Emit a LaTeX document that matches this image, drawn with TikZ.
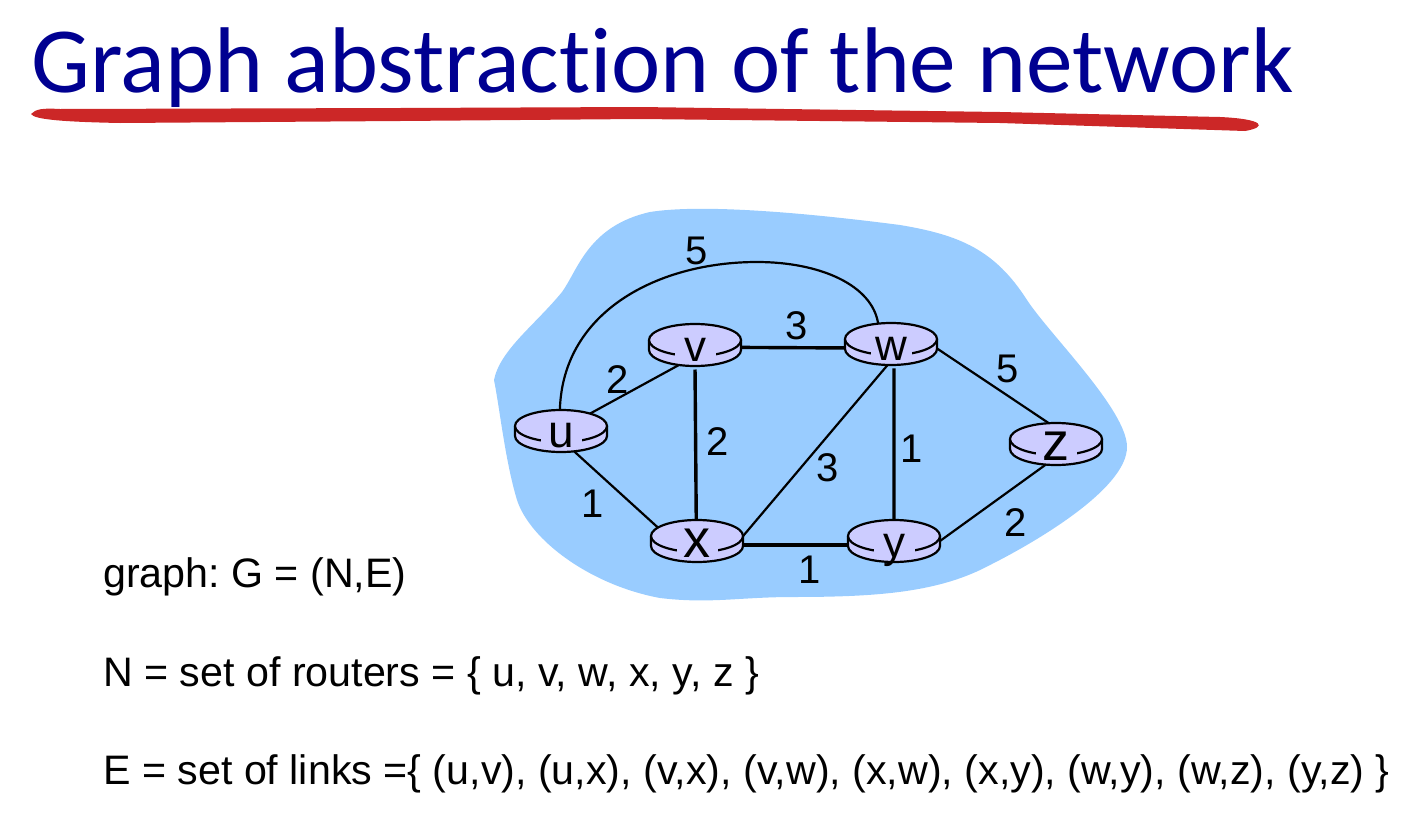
\documentclass[tikz,border=0pt]{standalone}
\usepackage{fontspec}
\setmainfont{Liberation Sans}
\newfontfamily\titlefont[Ligatures=NoCommon]{Carlito}
\definecolor{titleblue}{RGB}{0, 0, 145}
\definecolor{swoosh}{RGB}{204, 39, 39}
\definecolor{cloudblue}{RGB}{153, 204, 255}
\definecolor{routerfill}{RGB}{204, 204, 255}
\usetikzlibrary{shapes.geometric}
\tikzset{
	routerbox/.style={ellipse, minimum width=92pt, minimum height=43pt, inner sep=0pt, outer sep=0pt},
	routerbody/.style={draw=black, fill=routerfill, line width=2.2pt},
	routertext/.style={fill=routerfill, inner sep=0pt, minimum width=41pt, text height=20pt, text depth=0pt, yshift=-6.5pt},
	link/.style={draw=black, line width=2.2pt},
	heavylink/.style={draw=black, line width=3.4pt},
	weight/.style={font=\fontsize{40}{40}\selectfont, inner sep=0pt},
	caption/.style={anchor=base west, font=\fontsize{41.2}{41.2}\selectfont, inner sep=0pt},
}
\begin{document}
\frenchspacing
\begin{tikzpicture}[x=1pt, y=-1pt]
	\useasboundingbox (0,0) rectangle (1428,817);
	% title and swoosh
	\node[anchor=base west, inner sep=0pt, text=titleblue, font=\titlefont\fontsize{93.3}{93.3}\selectfont] (title) at (31,92) {Graph abstraction of the network};
	\fill[swoosh] (31,114) .. controls (36,109) and (42,108) .. (60,109) -- (400,108) -- (640,107) -- (1000,112) -- (1220,117) .. controls (1264,119) and (1268,127) .. (1245,131) -- (1000,123) -- (640,119) -- (400,121) -- (120,123) .. controls (70,122) and (34,120) .. cycle;
	% cloud
	\fill[cloudblue] (494,380) .. controls (500,350) and (535,325) .. (562,292) .. controls (578,270) and (588,226) .. (650,212) .. controls (700,204) and (800,212) .. (900,225) .. controls (960,235) and (995,250) .. (1027,300) .. controls (1050,335) and (1127,410) .. (1127,447) .. controls (1127,490) and (1030,545) .. (990,565) .. controls (940,592) and (880,597) .. (793,597) .. controls (740,597) and (710,604) .. (660,598) .. controls (590,585) and (530,540) .. (517,500) .. controls (505,460) and (500,410) .. (494,380) -- cycle;
	% routers
	\foreach \nname/\nx/\ny in {u/561/431, v/695/345, w/891/344, x/697/541, y/894/541, z/1056/444}
		\node[routerbox] (\nname) at (\nx,\ny) {};
	% links
	\draw[link] (u.93) .. controls (563,310) and (660,262) .. (757,262) .. controls (820,262) and (872,285) .. (w.122);
	\draw[link] (u.31) -- (v.231);
	\draw[link] (u.-57) -- (x.162);
	\draw[heavylink, shorten <=3pt] (v.south) -- (x.92);
	\draw[heavylink] (v.-3) -- (w.185);
	\draw[link] (x.5) -- (w.260);
	\draw[heavylink] (x.-5) -- (y.185);
	\draw[heavylink, shorten <=3pt] (w.-82) -- (y.north);
	\draw[link] (w.-5) -- (z.110);
	\draw[link] (y.0) -- (z.243);
	% router drums on top of the links
	\foreach \nname/\nx/\ny/\nsize in {u/561/431/46, v/695/345/44, w/891/344/44, x/697/541/54, y/894/541/44, z/1056/444/54} {
		\draw[routerbody] (\nx-46,\ny-5) -- (\nx-46,\ny+5) arc[start angle=180, end angle=0, x radius=46, y radius=16] -- (\nx+46,\ny-5);
		\draw[routerbody] (\nx,\ny-5) ellipse[x radius=46, y radius=16];
		\node[routertext, font=\fontsize{\nsize}{\nsize}\selectfont] (\nname text) at (\nname) {\nname};
	}
	% weights
	\node[weight] (luw) at (697,251) {5};
	\node[weight] (luv) at (618,380) {2};
	\node[weight] (lux) at (593,504) {1};
	\node[weight] (lvx) at (718,442) {2};
	\node[weight] (lvw) at (797,326) {3};
	\node[weight] (lxw) at (828,468) {3};
	\node[weight] (lxy) at (810,570) {1};
	\node[weight] (lwy) at (912,449) {1};
	\node[weight] (lwz) at (1008,369) {5};
	\node[weight] (lyz) at (1016,523) {2};
	% caption
	\node[caption] (graph) at (103,587) {graph: G = (N,E)};
	\node[caption] (nodes) at (103,686) {N = set of routers = \{ u, v, w, x, y, z \}};
	\node[caption] (links) at (103,784) {E = set of links =\{ (u,v), (u,x), (v,x), (v,w), (x,w), (x,y), (w,y), (w,z), (y,z) \}};
\end{tikzpicture}
\end{document}
